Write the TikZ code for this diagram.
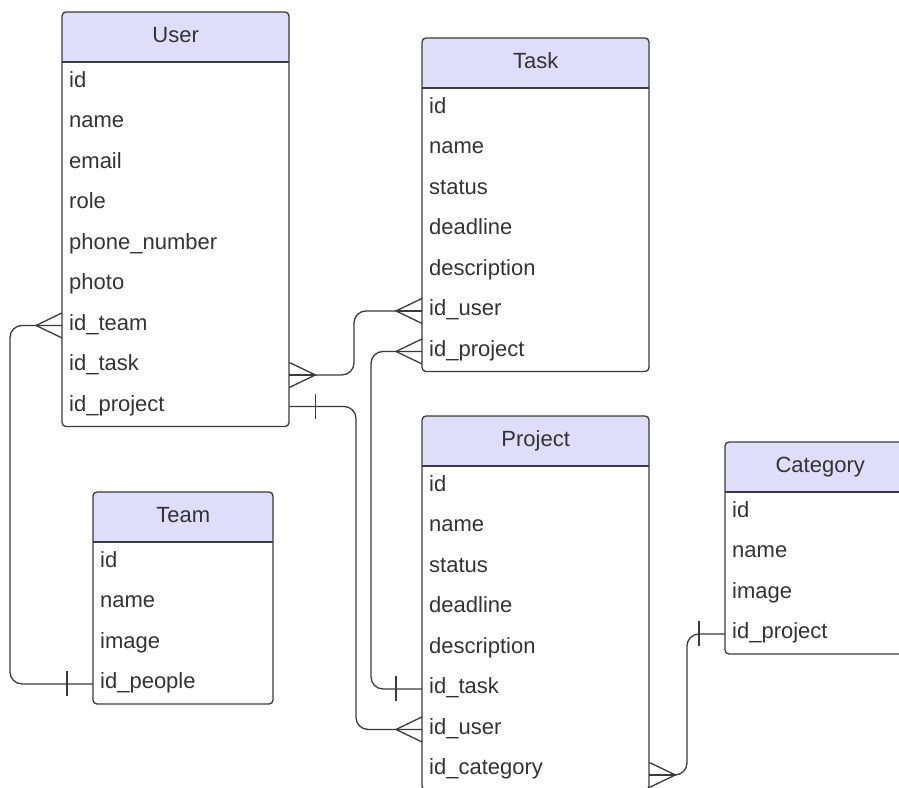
\documentclass[tikz,border=0pt]{standalone}
\usepackage{fontspec}
\setmainfont{Liberation Sans}
\usetikzlibrary{calc}
\definecolor{hdrfill}{HTML}{DEDEFB}
\definecolor{ink}{HTML}{333333}
\definecolor{edgecol}{HTML}{3A3A3A}
\tikzset{
  boxline/.style={draw=edgecol, line width=1.3pt},
  conn/.style={draw=edgecol, line width=1.3pt, rounded corners=12pt},
  tickline/.style={draw=edgecol, line width=1.3pt},
  hdr/.style={inner sep=0pt, minimum height=50pt, text height=15pt, text depth=5pt, font=\fontsize{22}{26}\selectfont, text=ink},
  rowtxt/.style={inner xsep=7pt, inner ysep=0pt, minimum height=40.5pt, text height=15pt, text depth=5pt, align=left, font=\fontsize{22}{26}\selectfont, text=ink, anchor=north west},
}
% #1 name, #2 x, #3 ytop, #4 width, #5 title, #6 number of rows, #7 rows
\newcommand{\erbox}[7]{%
  \pgfmathsetmacro\erw{#4-14}
  \pgfmathsetmacro\erh{50+40.5*#6}
  \begin{scope}
    \clip[rounded corners=4pt] (#2,#3) rectangle ++(#4,\erh);
    \fill[hdrfill] (#2,#3) rectangle ++(#4,50);
  \end{scope}
  \node[hdr, minimum width=#4pt, anchor=north west] (#1) at (#2,#3) {#5};
  \foreach \r [count=\i] in {#7} {
    \node[rowtxt, text width=\erw pt] (#1-\i) at ($(#2,#3)+(0,50+40.5*\i-40.5)$) {\r};
  }
  \draw[boxline, rounded corners=4pt] (#2,#3) rectangle ++(#4,\erh);
  \draw[boxline] ($(#2,#3)+(0,50)$) -- ++(#4,0);
}
% crow's foot at point (#1); #2 = +1 extends right, -1 extends left
\newcommand{\crowfoot}[2]{%
  \draw[tickline] ($(#1)+(0,-12.5)$) -- ($(#1)+(#2*26,0)$) -- ($(#1)+(0,12.5)$);
  \draw[tickline] (#1) -- ($(#1)+(#2*26,0)$);
}
\newcommand{\onebar}[2]{%
  \draw[tickline] ($(#1)+(#2*26,-12.5)$) -- ($(#1)+(#2*26,12.5)$);
}
\begin{document}
\begin{tikzpicture}[x=1pt, y=-1pt]
\useasboundingbox (0,0) rectangle (899,787);
\clip (0,0) rectangle (899,787);

\erbox{user}{62}{12}{227}{User}{9}{id,name,email,role,phone\_number,photo,id\_team,id\_task,id\_project}
\erbox{task}{422}{38}{227}{Task}{7}{id,name,status,deadline,description,id\_user,id\_project}
\erbox{project}{422}{416}{227}{Project}{8}{id,name,status,deadline,description,id\_task,id\_user,id\_category}
\erbox{team}{93}{492}{180}{Team}{4}{id,name,image,id\_people}
\erbox{cat}{725}{442}{190}{Category}{4}{id,name,image,id\_project}

% endpoints
\coordinate (uTeam) at (user-7.west);
\coordinate (uTask) at ($(user-8.east)+(0,9)$);
\coordinate (uProj) at (user-9.east);
\coordinate (tUser) at (task-6.west);
\coordinate (tProj) at (task-7.west);
\coordinate (pTask) at (project-6.west);
\coordinate (pUser) at (project-7.west);
\coordinate (pCat) at ($(project-8.east)+(0,5)$);
\coordinate (tmPeople) at (team-4.west);
\coordinate (cProj) at (cat-4.west);

% User.id_team -- Team.id_people
\draw[conn] (uTeam) -| ($(uTeam)+(-52,100)$) |- (tmPeople);
\crowfoot{uTeam}{-1}
\onebar{tmPeople}{-1}

% User.id_task -- Task.id_user
\draw[conn] (uTask) -| (354,340) |- (tUser);
\crowfoot{uTask}{1}
\crowfoot{tUser}{-1}

% User.id_project -- Project.id_user
\draw[conn] (uProj) -| (356,600) |- (pUser);
\onebar{uProj}{1}
\crowfoot{pUser}{-1}

% Task.id_project -- Project.id_task
\draw[conn] (tProj) -| (371,500) |- (pTask);
\crowfoot{tProj}{-1}
\onebar{pTask}{-1}

% Category.id_project -- Project.id_category
\draw[conn] (cProj) -| (687,700) |- (pCat);
\onebar{cProj}{-1}
\crowfoot{pCat}{1}
\end{tikzpicture}
\end{document}
